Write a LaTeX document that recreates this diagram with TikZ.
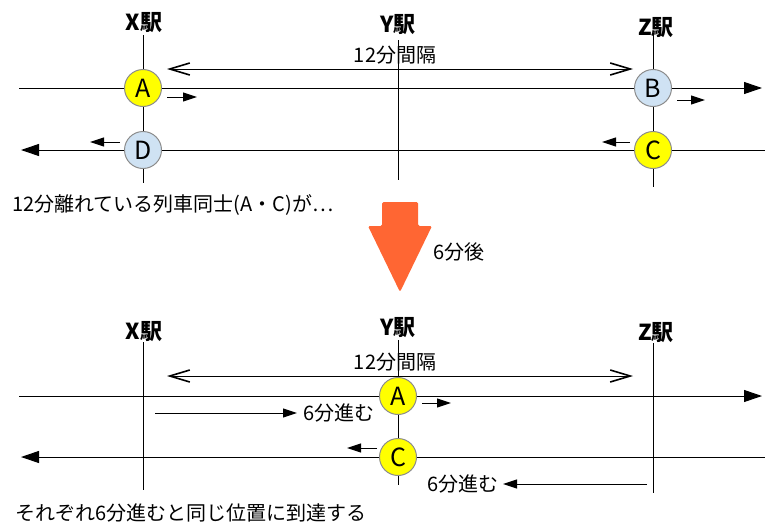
\documentclass[tikz,border=0pt]{standalone}
\usepackage{fontspec}
\setmainfont{Noto Sans CJK JP}
\usepackage{xcolor}
\usepackage{tikz}
\usetikzlibrary{arrows.meta,positioning}

\definecolor{trainyellow}{HTML}{FFFF00}
\definecolor{trainblue}{HTML}{CFE2F3}
\definecolor{arroworange}{HTML}{FF6633}

\begin{document}
\begin{tikzpicture}[x=1pt, y=-1pt]
        % Define styles
        \tikzstyle{train} = [circle, minimum size=37pt, inner sep=0pt, draw=black!45, line width=1pt, font=\fontsize{25}{25}\selectfont]
        \tikzstyle{yellowtrain} = [train, fill=trainyellow]
        \tikzstyle{bluetrain} = [train, fill=trainblue]
        \tikzstyle{station} = [inner sep=0pt, font=\bfseries\fontsize{22}{22}\selectfont]
        \tikzstyle{caption} = [inner sep=0pt, font=\fontsize{20}{20}\selectfont]
        \tikzstyle{rail} = [line width=1pt]
        \tikzstyle{track} = [line width=1pt, -{Triangle[length=18pt,width=12pt]}]
        \tikzstyle{move} = [line width=1pt, -{Triangle[length=14pt,width=9pt]}]
        \tikzstyle{gap} = [line width=1pt, {Straight Barb[length=20pt,width=12pt,line width=1.6pt]}-{Straight Barb[length=20pt,width=12pt,line width=1.6pt]}]

        \useasboundingbox (0,0) rectangle (765,530);

        % Upper panel: rails
        \coordinate (w1) at (19,88);   \coordinate (e1) at (762,88);
        \coordinate (w2) at (21,150);  \coordinate (e2) at (765,150);
        \draw [track] (w1) -- (e1);
        \draw [track] (e2) -- (w2);
        \draw [rail] (143,35) coordinate (xt) -- (143,183) coordinate (xb);
        \draw [rail] (398,40) coordinate (yt) -- (398,180) coordinate (yb);
        \draw [rail] (653,33) coordinate (zt) -- (653,187) coordinate (zb);

        % Upper panel: nodes
        \node [station] (xst) at (144,23) {X駅};
        \node [station] (yst) at (398,25) {Y駅};
        \node [station] (zst) at (656,28) {Z駅};
        \node [yellowtrain] (a1) at (143,88) {A};
        \node [bluetrain] (d1) at (143,150) {D};
        \node [bluetrain] (b1) at (653,88) {B};
        \node [yellowtrain] (c1) at (653,150) {C};
        \node [caption] (gap1) at (395,55) {12分間隔};
        \coordinate (gl1) at (167,69); \coordinate (gr1) at (633,69);

        % Upper panel: arrows
        \draw [gap] (gl1) -- (gr1);
        \draw [move] ([shift={(5,9)}]a1.east) -- ++(30,0);
        \draw [move] ([shift={(-4,-8)}]d1.west) -- ++(-30,0);
        \draw [move] ([shift={(5,12)}]b1.east) -- ++(28,0);
        \draw [move] ([shift={(-4,-8)}]c1.west) -- ++(-28,0);

        % Labels
        \node [caption, anchor=west] (before) at (12,205) {12分離れている列車同士(A・C)が…};
        \fill [arroworange, rounded corners=1.5pt] (382,202) -- (418,202) -- (418,226) -- (432,226)
              -- (400,292) -- (368,226) -- (382,226) -- cycle;
        \node [caption, anchor=west] (after) at (433,252) {6分後};

        % Lower panel: rails
        \coordinate (w3) at (19,396);  \coordinate (e3) at (762,396);
        \coordinate (w4) at (21,457);  \coordinate (e4) at (765,457);
        \draw [track] (w3) -- (e3);
        \draw [track] (e4) -- (w4);
        \draw [rail] (143,342) coordinate (xt2) -- (143,490) coordinate (xb2);
        \draw [rail] (398,340) coordinate (yt2) -- (398,485) coordinate (yb2);
        \draw [rail] (653,343) coordinate (zt2) -- (653,493) coordinate (zb2);

        % Lower panel: nodes
        \node [station] (xst2) at (144,332) {X駅};
        \node [station] (yst2) at (398,328) {Y駅};
        \node [station] (zst2) at (656,333) {Z駅};
        \node [yellowtrain] (a2) at (398,396) {A};
        \node [yellowtrain] (c2) at (398,457) {C};
        \node [caption] (gap2) at (395,362) {12分間隔};
        \coordinate (gl2) at (167,376); \coordinate (gr2) at (633,376);
        \node [caption, anchor=west] (runa) at (303,413) {6分進む};
        \node [caption, anchor=east] (runc) at (499,484) {6分進む};
        \coordinate (sa) at (155,413);
        \coordinate (sc) at (647,484);

        % Lower panel: arrows
        \draw [gap] (gl2) -- (gr2);
        \draw [move] ([shift={(5,7)}]a2.east) -- ++(29,0);
        \draw [move] ([shift={(-2,-9)}]c2.west) -- ++(-30,0);
        \draw [move] (sa) -- ([xshift=-6pt]runa.west);
        \draw [move] (sc) -- ([xshift=4pt]runc.east);

        \node [caption, anchor=west] (result) at (15,513) {それぞれ6分進むと同じ位置に到達する};
    \end{tikzpicture}
\end{document}
